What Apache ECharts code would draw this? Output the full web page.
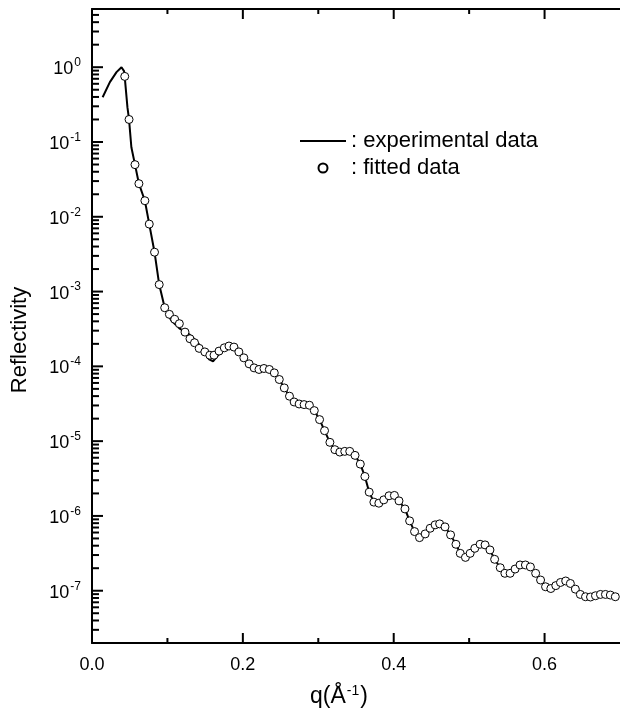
<!DOCTYPE html>
<html>
<head>
<meta charset="utf-8">
<script src="https://cdn.jsdelivr.net/npm/echarts@6/dist/echarts.min.js"></script>
<style>
html,body{margin:0;padding:0;background:#fff;}
#chart{width:620px;height:712px;}
</style>
</head>
<body>
<div id="chart"></div>
<script>
// experimental data (solid line): q (1/Å), reflectivity
const expQ = [0.0141,0.0237,0.0325,0.0391,0.0425,0.0438,0.0470,0.0491,0.0522,0.0570,0.0622,0.0701,0.0759,0.0829,0.0891,0.0964,
  0.1049,0.1158,0.1289,0.1377,0.1474,0.1553,0.1605,0.1662,0.1750,
  0.1816,0.1882,0.1947,0.2013,0.2083,0.2149,0.2214,0.2280,0.2351,0.2417,0.2483,0.2549,0.2618,0.2680,0.2746,0.2812,0.2882,0.2947,
  0.3017,0.3083,0.3154,0.3220,0.3286,0.3351,0.3417,0.3487,0.3557,0.3618,0.3675,0.3737,0.3803,0.3868,0.3938,0.4009,0.4070,0.4149,
  0.4211,0.4276,0.4342,0.4417,0.4483,0.4549,0.4609,0.4680,0.4754,0.4825,0.4882,0.4951,0.5013,0.5075,0.5145,0.5211,0.5276,0.5338,
  0.5412,0.5474,0.5543,0.5609,0.5675,0.5746,0.5812,0.5882,0.5947,0.6013,0.6083,0.6149,0.6211,0.6280,0.6342,0.6408,0.6474,0.6543,
  0.6609,0.6675,0.6741,0.6807,0.6872,0.6938];
const expR = [0.397,0.631,0.86,1.0,0.887,0.665,0.29,0.200,0.085,0.0498,0.0277,0.0164,0.00798,0.00336,0.00124,6.08e-4,
  4.12e-4,3.22e-4,2.68e-4,2.22e-4,1.68e-4,1.24e-4,1.17e-4,1.37e-4,1.74e-4,
  1.87e-4,1.81e-4,1.56e-4,1.30e-4,1.08e-4,9.54e-5,9.09e-5,9.37e-5,9.09e-5,8.18e-5,6.67e-5,5.15e-5,3.99e-5,3.34e-5,3.14e-5,3.08e-5,3.02e-5,2.56e-5,
  1.94e-5,1.38e-5,9.64e-6,7.69e-6,7.14e-6,7.30e-6,7.30e-6,6.45e-6,4.93e-6,3.37e-6,2.08e-6,1.53e-6,1.48e-6,1.64e-6,1.86e-6,1.88e-6,1.59e-6,1.24e-6,
  8.59e-7,6.18e-7,5.13e-7,5.75e-7,6.84e-7,7.60e-7,7.83e-7,7.14e-7,5.58e-7,4.18e-7,3.16e-7,2.79e-7,3.16e-7,3.69e-7,4.18e-7,4.10e-7,3.51e-7,2.63e-7,
  2.03e-7,1.71e-7,1.71e-7,1.95e-7,2.21e-7,2.21e-7,2.08e-7,1.71e-7,1.39e-7,1.13e-7,1.07e-7,1.17e-7,1.29e-7,1.35e-7,1.25e-7,1.05e-7,8.92e-8,8.31e-8,
  8.24e-8,8.57e-8,8.92e-8,8.92e-8,8.75e-8,8.31e-8];

// fitted data (open circles)
const fitQ = [0.0434,0.0491,0.0570,0.0622,0.0701,0.0759,0.0829,0.0891,0.0964,0.1026,0.1096,0.1158,0.1233,0.1299,0.1359,0.1421,0.1496,0.1562,0.1618,
  0.1684,0.1754,0.1816,0.1882,0.1947,0.2013,0.2083,0.2149,0.2214,0.2280,0.2351,0.2417,0.2483,0.2549,0.2618,0.2680,0.2746,0.2812,0.2882,0.2947,
  0.3017,0.3083,0.3154,0.3220,0.3286,0.3351,0.3417,0.3487,0.3557,0.3618,0.3675,0.3737,0.3803,0.3868,0.3938,0.4009,0.4070,0.4149,
  0.4211,0.4276,0.4342,0.4417,0.4483,0.4549,0.4609,0.4680,0.4754,0.4825,0.4882,0.4951,0.5013,0.5075,0.5145,0.5211,0.5276,0.5338,
  0.5412,0.5474,0.5543,0.5609,0.5675,0.5746,0.5812,0.5882,0.5947,0.6013,0.6083,0.6149,0.6211,0.6280,0.6342,0.6408,0.6474,0.6543,
  0.6609,0.6675,0.6741,0.6807,0.6872,0.6938];
const fitR = [0.753,0.200,0.0498,0.0277,0.0164,0.00798,0.00336,0.00124,6.08e-4,4.96e-4,4.26e-4,3.72e-4,2.87e-4,2.34e-4,2.07e-4,1.74e-4,1.56e-4,1.41e-4,1.41e-4,
  1.60e-4,1.77e-4,1.87e-4,1.81e-4,1.56e-4,1.30e-4,1.08e-4,9.54e-5,9.09e-5,9.37e-5,9.09e-5,8.18e-5,6.67e-5,5.15e-5,3.99e-5,3.34e-5,3.14e-5,3.08e-5,3.02e-5,2.56e-5,
  1.94e-5,1.38e-5,9.64e-6,7.69e-6,7.14e-6,7.30e-6,7.30e-6,6.45e-6,4.93e-6,3.37e-6,2.08e-6,1.53e-6,1.48e-6,1.64e-6,1.86e-6,1.88e-6,1.59e-6,1.24e-6,
  8.59e-7,6.18e-7,5.13e-7,5.75e-7,6.84e-7,7.60e-7,7.83e-7,7.14e-7,5.58e-7,4.18e-7,3.16e-7,2.79e-7,3.16e-7,3.69e-7,4.18e-7,4.10e-7,3.51e-7,2.63e-7,
  2.03e-7,1.71e-7,1.71e-7,1.95e-7,2.21e-7,2.21e-7,2.08e-7,1.71e-7,1.39e-7,1.13e-7,1.07e-7,1.17e-7,1.29e-7,1.35e-7,1.25e-7,1.05e-7,8.92e-8,8.31e-8,
  8.24e-8,8.57e-8,8.92e-8,8.92e-8,8.75e-8,8.31e-8];

const seriesNames = ['experimental data', 'fitted data'];
const xTickLabels = ['0.0', '0.2', '0.4', '0.6'];
const xMajorTicks = [0.2, 0.4, 0.6];
const xMinorTicks = [0.1, 0.3, 0.5];
const yDecades = [-8, -7, -6, -5, -4, -3, -2, -1, 0];
const yMinorMult = [2, 3, 4, 5, 6, 7, 8, 9];
const yMin = 2e-8, yMax = 6, xMin = 0, xMax = 0.7;

const FONT = '"Liberation Sans", Arial, sans-serif';
const yMajorTicks = yDecades.map(d => Math.pow(10, d)).filter(v => v >= yMin && v <= yMax);
const yMinorTicks = [];
yDecades.forEach(d => yMinorMult.forEach(m => {
  const v = m * Math.pow(10, d);
  if (v >= yMin && v <= yMax) yMinorTicks.push(+v.toPrecision(3));
}));

const chart = echarts.init(document.getElementById('chart'), null, {renderer: 'canvas'});
const mkAxisLine = () => ({show: true, lineStyle: {color: '#000', width: 2}});

function tickSeries(name, data, draw) {
  return {
    name: name, type: 'custom', silent: true, clip: false, z: 10,
    coordinateSystem: 'cartesian2d', xAxisIndex: 0, yAxisIndex: 0,
    data: data, encode: {x: 0, y: 1},
    renderItem: draw
  };
}

const option = {
  animation: false,
  backgroundColor: '#fff',
  textStyle: {fontFamily: FONT, color: '#000'},
  grid: {left: 92, top: 9, right: -4, bottom: 69, containLabel: false},
  legend: {
    data: [
      {name: seriesNames[0], icon: 'path://M0,0H46V2H0Z'},
      {name: seriesNames[1]}
    ],
    orient: 'vertical',
    left: 300, top: 130,
    itemWidth: 46, itemHeight: 9, itemGap: 5,
    padding: 0,
    formatter: n => ': ' + n,
    textStyle: {fontSize: 22, lineHeight: 22, color: '#000', fontFamily: FONT},
    selectedMode: false
  },
  xAxis: [{
    type: 'value', position: 'bottom', min: xMin, max: xMax, interval: 0.2,
    axisLine: mkAxisLine(),
    axisTick: {show: false},
    axisLabel: {
      show: true, fontSize: 18, color: '#000', margin: 13, fontFamily: FONT,
      showMaxLabel: false,
      formatter: v => { const i = Math.round(v / 0.2); return Math.abs(v - i * 0.2) < 1e-6 ? (xTickLabels[i] || '') : ''; }
    },
    splitLine: {show: false}
  }, {
    type: 'value', position: 'top', min: xMin, max: xMax, interval: 0.2,
    axisLine: mkAxisLine(),
    axisTick: {show: false},
    axisLabel: {show: false},
    splitLine: {show: false}
  }],
  yAxis: [{
    type: 'log', logBase: 10, min: yMin, max: yMax,
    axisLine: mkAxisLine(),
    axisTick: {show: false},
    axisLabel: {
      show: true, margin: 11, showMinLabel: false, showMaxLabel: false,
      formatter: v => {
        const e = Math.round(Math.log10(v));
        if (Math.abs(v / Math.pow(10, e) - 1) > 1e-6) return '';
        return '{b|10}{s|' + e + '}';
      },
      rich: {
        b: {fontSize: 18, fontFamily: FONT, color: '#000', padding: [4, 0, 0, 0]},
        s: {fontSize: 12, fontFamily: FONT, color: '#000', padding: [0, 0, 9, 1]}
      }
    },
    splitLine: {show: false}
  }],
  series: [{
    name: seriesNames[0], type: 'line',
    data: expQ.map((q, i) => [q, expR[i]]),
    symbol: 'none', showSymbol: false,
    lineStyle: {color: '#000', width: 2},
    itemStyle: {color: '#000'},
    z: 2
  }, {
    name: seriesNames[1], type: 'scatter',
    data: fitQ.map((q, i) => [q, fitR[i]]),
    symbol: 'circle', symbolSize: 8,
    itemStyle: {color: '#fff', borderColor: '#000', borderWidth: 1, opacity: 1},
    z: 3
  },
  tickSeries('yMinorTicks', yMinorTicks.map(v => [xMin, v]), (params, api) => {
    const p = api.coord([xMin, api.value(1)]);
    return {type: 'rect', shape: {x: p[0], y: p[1] - 1, width: 7, height: 2}, style: {fill: '#000'}};
  }),
  tickSeries('yMajorTicks', yMajorTicks.map(v => [xMin, v]), (params, api) => {
    const p = api.coord([xMin, api.value(1)]);
    return {type: 'rect', shape: {x: p[0], y: p[1] - 1, width: 11, height: 2}, style: {fill: '#000'}};
  }),
  tickSeries('xMinorTicks', xMinorTicks.map(q => [q, yMin]), (params, api) => {
    const b = api.coord([api.value(0), yMin]);
    const t = api.coord([api.value(0), yMax]);
    return {type: 'group', children: [
      {type: 'rect', shape: {x: b[0] - 1, y: b[1] - 5, width: 2, height: 5}, style: {fill: '#000'}},
      {type: 'rect', shape: {x: t[0] - 1, y: t[1], width: 2, height: 5}, style: {fill: '#000'}}
    ]};
  }),
  tickSeries('xMajorTicks', xMajorTicks.map(q => [q, yMin]), (params, api) => {
    const b = api.coord([api.value(0), yMin]);
    const t = api.coord([api.value(0), yMax]);
    return {type: 'group', children: [
      {type: 'rect', shape: {x: b[0] - 1, y: b[1] - 10, width: 2, height: 10}, style: {fill: '#000'}},
      {type: 'rect', shape: {x: t[0] - 1, y: t[1], width: 2, height: 10}, style: {fill: '#000'}}
    ]};
  })
  ],
  graphic: [{
    type: 'text', x: 20, y: 340, rotation: Math.PI / 2,
    style: {text: 'Reflectivity', font: '22px ' + FONT, fill: '#000', align: 'center', verticalAlign: 'middle'}
  }, {
    type: 'text', x: 339, y: 697,
    style: {
      text: '{a|q(Å}{s|-1}{a|)}', align: 'center', verticalAlign: 'middle', fill: '#000',
      rich: {
        a: {fontSize: 23, fontFamily: FONT, fill: '#000'},
        s: {fontSize: 14, fontFamily: FONT, fill: '#000', padding: [0, 1, 12, 1]}
      }
    }
  }]
};
chart.setOption(option);
</script>
</body>
</html>
